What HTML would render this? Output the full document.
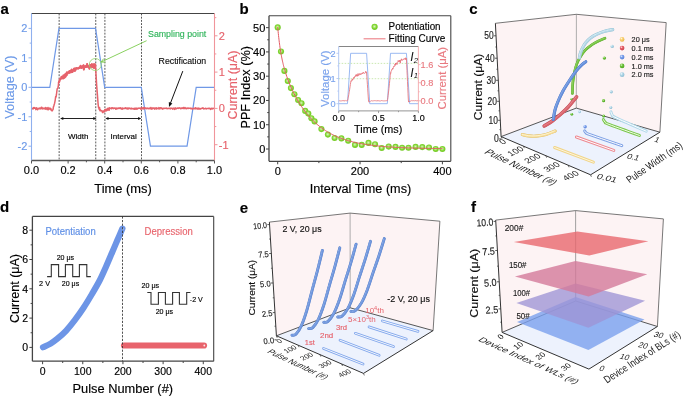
<!DOCTYPE html>
<html><head><meta charset="utf-8"><style>
html,body{margin:0;padding:0;background:#fff;}
svg{display:block;font-family:"Liberation Sans",sans-serif;will-change:transform;}
</style></head><body>
<svg width="685" height="398" viewBox="0 0 685 398">
<defs>
<radialGradient id="gsph" cx="0.47" cy="0.45" r="0.55">
<stop offset="0" stop-color="#dcf6c0"/><stop offset="0.35" stop-color="#a8e46e"/><stop offset="0.62" stop-color="#80d532"/><stop offset="1" stop-color="#72c823"/>
</radialGradient>
<radialGradient id="gbl" cx="0.36" cy="0.32" r="0.7"><stop offset="0" stop-color="#e4edff"/><stop offset="0.4" stop-color="#7aa0ec"/><stop offset="1" stop-color="#557fd6"/></radialGradient>
<radialGradient id="glb" cx="0.36" cy="0.32" r="0.7"><stop offset="0" stop-color="#f6fcff"/><stop offset="0.4" stop-color="#b0d6e7"/><stop offset="1" stop-color="#8dbcd2"/></radialGradient>
<radialGradient id="ggr" cx="0.36" cy="0.32" r="0.7"><stop offset="0" stop-color="#dff7c8"/><stop offset="0.4" stop-color="#6cc23a"/><stop offset="1" stop-color="#4fa524"/></radialGradient>
<radialGradient id="grd" cx="0.36" cy="0.32" r="0.7"><stop offset="0" stop-color="#ffe0e2"/><stop offset="0.4" stop-color="#e55a64"/><stop offset="1" stop-color="#c9424d"/></radialGradient>
<radialGradient id="gyl" cx="0.36" cy="0.32" r="0.7"><stop offset="0" stop-color="#fff8e0"/><stop offset="0.4" stop-color="#fad071"/><stop offset="1" stop-color="#e8b64a"/></radialGradient>
</defs>
<rect width="685" height="398" fill="#fff"/>
<text x="0.5" y="13.7" font-size="15" fill="#000" stroke="#000" stroke-width="0.15" font-weight="bold" >a</text>
<line x1="59.15" y1="13.5" x2="59.15" y2="160.5" stroke="#222" stroke-width="0.75" stroke-dasharray="1.9,1.3"/>
<line x1="95.75" y1="13.5" x2="95.75" y2="160.5" stroke="#222" stroke-width="0.75" stroke-dasharray="1.9,1.3"/>
<line x1="104.9" y1="13.5" x2="104.9" y2="160.5" stroke="#222" stroke-width="0.75" stroke-dasharray="1.9,1.3"/>
<line x1="141.5" y1="13.5" x2="141.5" y2="160.5" stroke="#222" stroke-width="0.75" stroke-dasharray="1.9,1.3"/>
<path d="M31.5,87.3 L49.8,87.3 L58.95,28.4 L95.55,28.4 L104.7,87.3 L141.3,87.3 L150.45,146.2 L187.05,146.2 L196.2,87.3 L214.5,87.3" fill="none" stroke="#6f98e6" stroke-width="1.2" />
<path d="M31.5,108.59 L31.87,108.03 L32.23,108.56 L32.6,108.63 L32.96,109.08 L33.33,108.55 L33.7,107.59 L34.06,108.09 L34.43,107.65 L34.79,108.22 L35.16,108.11 L35.53,108.27 L35.89,109.61 L36.26,107.78 L36.62,108.03 L36.99,108.04 L37.36,109.63 L37.72,109.67 L38.09,109.05 L38.45,108.74 L38.82,108.18 L39.19,108.43 L39.55,108.02 L39.92,108.87 L40.28,108.18 L40.65,108.11 L41.02,108.88 L41.38,107.15 L41.75,108 L42.11,107.53 L42.48,108.85 L42.85,108.94 L43.21,108.65 L43.58,108.48 L43.94,107.94 L44.31,108.22 L44.68,108.72 L45.04,109.09 L45.41,108.78 L45.77,107.51 L46.14,108.99 L46.51,108.22 L46.87,108.09 L47.24,109.48 L47.6,108.36 L47.97,107.45 L48.34,109.86 L48.7,108.63 L49.07,108.48 L49.43,108.99 L49.8,108.04 L50.17,108.45 L50.53,109.46 L50.9,108.58 L51.26,110.08 L51.63,110.77 L52,110.6 L52.36,110.83 L52.73,109.83 L53.09,109.34 L53.46,106.66 L53.83,106.08 L54.19,104.41 L54.56,103.39 L54.92,101.53 L55.29,99.53 L55.66,96.5 L56.02,97.17 L56.39,95 L56.75,91.99 L57.12,89.32 L57.49,88.14 L57.85,88.11 L58.22,86.72 L58.58,82.78 L58.95,81.92 L59.32,81.88 L59.68,79.33 L60.05,78.8 L60.41,79.36 L60.78,78.88 L61.15,78.31 L61.51,76.76 L61.88,77.39 L62.24,77.14 L62.61,76.77 L62.98,78.59 L63.34,75.36 L63.71,75.38 L64.07,75.5 L64.44,77.74 L64.81,76.08 L65.17,74.29 L65.54,76.71 L65.9,74.78 L66.27,73.29 L66.64,75.4 L67,72.18 L67.37,73 L67.73,73.48 L68.1,72.76 L68.47,72.2 L68.83,72.51 L69.2,71.25 L69.56,72.87 L69.93,72.42 L70.3,70.73 L70.66,71.57 L71.03,72.3 L71.39,70.25 L71.76,69.54 L72.13,71.3 L72.49,72.08 L72.86,70.64 L73.22,70.49 L73.59,70.48 L73.96,68.59 L74.32,70.91 L74.69,68.43 L75.05,70.86 L75.42,70.22 L75.79,68.64 L76.15,68 L76.52,68.14 L76.88,68.54 L77.25,68.62 L77.62,68.48 L77.98,67.93 L78.35,68.58 L78.71,68 L79.08,67.59 L79.45,68.06 L79.81,67.18 L80.18,67.28 L80.54,65.71 L80.91,67.33 L81.28,68 L81.64,67.85 L82.01,67.39 L82.37,66.35 L82.74,67.54 L83.11,66.72 L83.47,65.17 L83.84,69.56 L84.2,68.02 L84.57,66.55 L84.94,66.32 L85.3,66.41 L85.67,67.02 L86.03,65.84 L86.4,66.16 L86.77,66.91 L87.13,63.84 L87.5,65.89 L87.86,66.75 L88.23,66.23 L88.6,66.3 L88.96,66.08 L89.33,68.73 L89.69,66.4 L90.06,64.83 L90.43,66.99 L90.79,65.82 L91.16,64.73 L91.52,64.78 L91.89,64.09 L92.26,67.29 L92.62,65.88 L92.99,65.82 L93.35,64.8 L93.72,64.28 L94.09,68.08 L94.45,64.21 L94.82,66.75 L95.18,64.54 L95.55,66.29 L95.92,73.26 L96.28,78.59 L96.65,85.02 L97.01,89.87 L97.38,94.28 L97.75,99.42 L98.11,104.09 L98.48,107.29 L98.84,108.04 L99.21,109.41 L99.58,107.59 L99.94,110.78 L100.31,109.61 L100.67,110.77 L101.04,110.75 L101.41,110.56 L101.77,111.09 L102.14,110.92 L102.5,112.57 L102.87,112.58 L103.24,110.88 L103.6,111.88 L103.97,111.77 L104.33,111.94 L104.7,109.79 L105.07,110.02 L105.43,109.34 L105.8,110.93 L106.16,110.1 L106.53,110.77 L106.9,109.23 L107.26,108.48 L107.63,110.13 L107.99,108.19 L108.36,108.45 L108.73,109.15 L109.09,110.29 L109.46,107.69 L109.82,108.62 L110.19,108.62 L110.56,108.25 L110.92,108.25 L111.29,107.86 L111.65,108.77 L112.02,107.99 L112.39,107.86 L112.75,107.87 L113.12,108.47 L113.48,108.67 L113.85,108.03 L114.22,108.36 L114.58,108.35 L114.95,107.88 L115.31,108.5 L115.68,109.23 L116.05,108.54 L116.41,109.07 L116.78,108.1 L117.14,108.28 L117.51,108.62 L117.88,108.4 L118.24,108.1 L118.61,108.37 L118.97,107.92 L119.34,108.42 L119.71,108.02 L120.07,107.86 L120.44,107.82 L120.8,108.64 L121.17,108.08 L121.54,109.08 L121.9,108.79 L122.27,109.11 L122.63,108.01 L123,108.85 L123.37,108.4 L123.73,108.47 L124.1,108.41 L124.46,108.61 L124.83,108.32 L125.2,107.75 L125.56,108.38 L125.93,108.21 L126.29,108.04 L126.66,108.47 L127.03,108.86 L127.39,108.6 L127.76,108.01 L128.12,109 L128.49,108.62 L128.86,108.03 L129.22,108.11 L129.59,108.4 L129.95,108.11 L130.32,108.34 L130.69,108.83 L131.05,108.97 L131.42,108.63 L131.78,108.07 L132.15,108.61 L132.52,108.73 L132.88,108.68 L133.25,108.96 L133.61,108.44 L133.98,108.83 L134.35,108.27 L134.71,109.26 L135.08,108.28 L135.44,108.63 L135.81,109.1 L136.18,108.14 L136.54,108.5 L136.91,109.21 L137.27,108.72 L137.64,108.29 L138.01,108.57 L138.37,108.12 L138.74,108.13 L139.1,108.16 L139.47,108.28 L139.84,107.92 L140.2,108.16 L140.57,108.24 L140.93,109.16 L141.3,108.07 L141.67,107.92 L142.03,108.51 L142.4,108.57 L142.76,107.7 L143.13,109.04 L143.5,108.23 L143.86,107.52 L144.23,108.74 L144.59,108.15 L144.96,107.72 L145.33,108.44 L145.69,108.2 L146.06,108.07 L146.42,108.73 L146.79,108.43 L147.16,108.29 L147.52,108.1 L147.89,108.41 L148.25,108.47 L148.62,108.77 L148.99,108.53 L149.35,108.08 L149.72,108.36 L150.08,108.71 L150.45,108.71 L150.82,107.43 L151.18,107.99 L151.55,108.17 L151.91,109.34 L152.28,108.17 L152.65,108.23 L153.01,107.79 L153.38,108.24 L153.74,108.42 L154.11,108.21 L154.48,109.11 L154.84,108.02 L155.21,108.28 L155.57,108.65 L155.94,107.92 L156.31,107.74 L156.67,108.91 L157.04,108.64 L157.4,108.29 L157.77,108.33 L158.14,108.54 L158.5,108.75 L158.87,107.63 L159.23,108.02 L159.6,108.83 L159.97,108.89 L160.33,107.78 L160.7,108.04 L161.06,107.74 L161.43,108.11 L161.8,108.72 L162.16,108.31 L162.53,109.18 L162.89,108.67 L163.26,108.42 L163.63,108.21 L163.99,108.66 L164.36,108.45 L164.72,108.23 L165.09,108.26 L165.46,108.17 L165.82,108.32 L166.19,108.52 L166.55,108.11 L166.92,108.38 L167.29,108.7 L167.65,108.63 L168.02,108.4 L168.38,108.44 L168.75,108.34 L169.12,108.4 L169.48,108.34 L169.85,108.45 L170.21,108.86 L170.58,108.25 L170.95,108.02 L171.31,108.24 L171.68,108.47 L172.04,108.24 L172.41,108.75 L172.78,109.09 L173.14,108.38 L173.51,108.74 L173.87,108.13 L174.24,108.79 L174.61,109.35 L174.97,108.78 L175.34,107.83 L175.7,108.54 L176.07,108.9 L176.44,108.68 L176.8,108.21 L177.17,108.22 L177.53,108.34 L177.9,107.86 L178.27,108.14 L178.63,108.41 L179,108.18 L179.36,107.8 L179.73,108.05 L180.1,108.03 L180.46,108.79 L180.83,108.45 L181.19,108.14 L181.56,108.51 L181.93,108.01 L182.29,108.18 L182.66,108.07 L183.02,108.48 L183.39,107.48 L183.76,107.95 L184.12,108.48 L184.49,108.37 L184.85,107.46 L185.22,108.52 L185.59,108.08 L185.95,108.04 L186.32,108.4 L186.68,108.82 L187.05,108.33 L187.42,108.27 L187.78,107.99 L188.15,108.12 L188.51,108.39 L188.88,108.09 L189.25,108.2 L189.61,108.33 L189.98,108.38 L190.34,108.49 L190.71,108.15 L191.08,108.78 L191.44,108.63 L191.81,108.4 L192.17,108.93 L192.54,108.56 L192.91,109.13 L193.27,108.65 L193.64,108.19 L194,108.19 L194.37,108.42 L194.74,108.48 L195.1,108.91 L195.47,107.74 L195.83,108.21 L196.2,108 L196.57,108.72 L196.93,108.47 L197.3,109.06 L197.66,108.12 L198.03,108.06 L198.4,109.09 L198.76,108.42 L199.13,108.17 L199.49,109.04 L199.86,109.06 L200.23,108.79 L200.59,108.63 L200.96,108.91 L201.32,108.39 L201.69,108.31 L202.06,108.17 L202.42,108.15 L202.79,107.85 L203.15,107.98 L203.52,108.88 L203.89,108.58 L204.25,108.78 L204.62,108.79 L204.98,108.43 L205.35,108.4 L205.72,108.22 L206.08,108.98 L206.45,108.85 L206.81,108.41 L207.18,108.47 L207.55,108.51 L207.91,108.42 L208.28,108.68 L208.64,108.15 L209.01,108.27 L209.38,108.43 L209.74,108.64 L210.11,108.46 L210.47,109.39 L210.84,108.76 L211.21,108.39 L211.57,108.95 L211.94,108.33 L212.3,108.35 L212.67,108.9 L213.04,108.49 L213.4,108.51 L213.77,108.23 L214.13,108.18 L214.5,108.41" fill="none" stroke="#e6626b" stroke-width="1.5" stroke-linejoin="round"/>
<path d="M58.58,82.78 L58.95,81.92 L59.32,81.88 L59.68,79.33 L60.05,78.8 L60.41,79.36 L60.78,78.88 L61.15,78.31 L61.51,76.76 L61.88,77.39 L62.24,77.14 L62.61,76.77 L62.98,78.59 L63.34,75.36 L63.71,75.38 L64.07,75.5 L64.44,77.74 L64.81,76.08 L65.17,74.29 L65.54,76.71 L65.9,74.78 L66.27,73.29 L66.64,75.4 L67,72.18 L67.37,73 L67.73,73.48 L68.1,72.76 L68.47,72.2 L68.83,72.51 L69.2,71.25 L69.56,72.87 L69.93,72.42 L70.3,70.73 L70.66,71.57 L71.03,72.3 L71.39,70.25 L71.76,69.54 L72.13,71.3 L72.49,72.08 L72.86,70.64 L73.22,70.49 L73.59,70.48 L73.96,68.59 L74.32,70.91 L74.69,68.43 L75.05,70.86 L75.42,70.22 L75.79,68.64 L76.15,68 L76.52,68.14 L76.88,68.54 L77.25,68.62 L77.62,68.48 L77.98,67.93 L78.35,68.58 L78.71,68 L79.08,67.59 L79.45,68.06 L79.81,67.18 L80.18,67.28 L80.54,65.71 L80.91,67.33 L81.28,68 L81.64,67.85 L82.01,67.39 L82.37,66.35 L82.74,67.54 L83.11,66.72 L83.47,65.17 L83.84,69.56 L84.2,68.02 L84.57,66.55 L84.94,66.32 L85.3,66.41 L85.67,67.02 L86.03,65.84 L86.4,66.16 L86.77,66.91 L87.13,63.84 L87.5,65.89 L87.86,66.75 L88.23,66.23 L88.6,66.3 L88.96,66.08 L89.33,68.73 L89.69,66.4 L90.06,64.83 L90.43,66.99 L90.79,65.82 L91.16,64.73 L91.52,64.78 L91.89,64.09 L92.26,67.29 L92.62,65.88 L92.99,65.82 L93.35,64.8 L93.72,64.28 L94.09,68.08 L94.45,64.21 L94.82,66.75 L95.18,64.54 L95.55,66.29" fill="none" stroke="#e6626b" stroke-width="1.9" stroke-linejoin="round"/>
<line x1="31.5" y1="13.5" x2="214.5" y2="13.5" stroke="#444" stroke-width="1.1" />
<line x1="31.5" y1="160.5" x2="214.5" y2="160.5" stroke="#555" stroke-width="1.3" />
<line x1="31.5" y1="13.5" x2="31.5" y2="160.5" stroke="#8fb0ee" stroke-width="1.1" />
<line x1="214.5" y1="13.5" x2="214.5" y2="160.5" stroke="#f0959b" stroke-width="1.1" />
<line x1="31.5" y1="160.5" x2="31.5" y2="163.5" stroke="#555" stroke-width="1" />
<text x="31.5" y="174.1" font-size="11" fill="#000" stroke="#000" stroke-width="0.15" text-anchor="middle" >0.0</text>
<line x1="49.8" y1="160.5" x2="49.8" y2="162.3" stroke="#555" stroke-width="1" />
<line x1="68.1" y1="160.5" x2="68.1" y2="163.5" stroke="#555" stroke-width="1" />
<text x="68.1" y="174.1" font-size="11" fill="#000" stroke="#000" stroke-width="0.15" text-anchor="middle" >0.2</text>
<line x1="86.4" y1="160.5" x2="86.4" y2="162.3" stroke="#555" stroke-width="1" />
<line x1="104.7" y1="160.5" x2="104.7" y2="163.5" stroke="#555" stroke-width="1" />
<text x="104.7" y="174.1" font-size="11" fill="#000" stroke="#000" stroke-width="0.15" text-anchor="middle" >0.4</text>
<line x1="123" y1="160.5" x2="123" y2="162.3" stroke="#555" stroke-width="1" />
<line x1="141.3" y1="160.5" x2="141.3" y2="163.5" stroke="#555" stroke-width="1" />
<text x="141.3" y="174.1" font-size="11" fill="#000" stroke="#000" stroke-width="0.15" text-anchor="middle" >0.6</text>
<line x1="159.6" y1="160.5" x2="159.6" y2="162.3" stroke="#555" stroke-width="1" />
<line x1="177.9" y1="160.5" x2="177.9" y2="163.5" stroke="#555" stroke-width="1" />
<text x="177.9" y="174.1" font-size="11" fill="#000" stroke="#000" stroke-width="0.15" text-anchor="middle" >0.8</text>
<line x1="196.2" y1="160.5" x2="196.2" y2="162.3" stroke="#555" stroke-width="1" />
<line x1="214.5" y1="160.5" x2="214.5" y2="163.5" stroke="#555" stroke-width="1" />
<text x="214.5" y="174.1" font-size="11" fill="#000" stroke="#000" stroke-width="0.15" text-anchor="middle" >1.0</text>
<line x1="31.5" y1="146.2" x2="28.5" y2="146.2" stroke="#8fb0ee" stroke-width="1" />
<text x="27.4" y="150.2" font-size="11" fill="#6d9ae8" stroke="#6d9ae8" stroke-width="0.15" text-anchor="end" >-2</text>
<line x1="31.5" y1="131.47" x2="29.7" y2="131.47" stroke="#8fb0ee" stroke-width="1" />
<line x1="31.5" y1="116.75" x2="28.5" y2="116.75" stroke="#8fb0ee" stroke-width="1" />
<text x="27.4" y="120.75" font-size="11" fill="#6d9ae8" stroke="#6d9ae8" stroke-width="0.15" text-anchor="end" >-1</text>
<line x1="31.5" y1="102.02" x2="29.7" y2="102.02" stroke="#8fb0ee" stroke-width="1" />
<line x1="31.5" y1="87.3" x2="28.5" y2="87.3" stroke="#8fb0ee" stroke-width="1" />
<text x="27.4" y="91.3" font-size="11" fill="#6d9ae8" stroke="#6d9ae8" stroke-width="0.15" text-anchor="end" >0</text>
<line x1="31.5" y1="72.58" x2="29.7" y2="72.58" stroke="#8fb0ee" stroke-width="1" />
<line x1="31.5" y1="57.85" x2="28.5" y2="57.85" stroke="#8fb0ee" stroke-width="1" />
<text x="27.4" y="61.85" font-size="11" fill="#6d9ae8" stroke="#6d9ae8" stroke-width="0.15" text-anchor="end" >1</text>
<line x1="31.5" y1="43.12" x2="29.7" y2="43.12" stroke="#8fb0ee" stroke-width="1" />
<line x1="31.5" y1="28.4" x2="28.5" y2="28.4" stroke="#8fb0ee" stroke-width="1" />
<text x="27.4" y="32.4" font-size="11" fill="#6d9ae8" stroke="#6d9ae8" stroke-width="0.15" text-anchor="end" >2</text>
<line x1="214.5" y1="144.7" x2="217.5" y2="144.7" stroke="#f0959b" stroke-width="1" />
<text x="218.8" y="148.7" font-size="11" fill="#e6626b" stroke="#e6626b" stroke-width="0.15" >-1</text>
<line x1="214.5" y1="126.55" x2="216.3" y2="126.55" stroke="#f0959b" stroke-width="1" />
<line x1="214.5" y1="108.4" x2="217.5" y2="108.4" stroke="#f0959b" stroke-width="1" />
<text x="218.8" y="112.4" font-size="11" fill="#e6626b" stroke="#e6626b" stroke-width="0.15" >0</text>
<line x1="214.5" y1="90.25" x2="216.3" y2="90.25" stroke="#f0959b" stroke-width="1" />
<line x1="214.5" y1="72.1" x2="217.5" y2="72.1" stroke="#f0959b" stroke-width="1" />
<text x="218.8" y="76.1" font-size="11" fill="#e6626b" stroke="#e6626b" stroke-width="0.15" >1</text>
<line x1="214.5" y1="53.95" x2="216.3" y2="53.95" stroke="#f0959b" stroke-width="1" />
<line x1="214.5" y1="35.8" x2="217.5" y2="35.8" stroke="#f0959b" stroke-width="1" />
<text x="218.8" y="39.8" font-size="11" fill="#e6626b" stroke="#e6626b" stroke-width="0.15" >2</text>
<line x1="214.5" y1="17.65" x2="216.3" y2="17.65" stroke="#f0959b" stroke-width="1" />
<text x="123" y="193.3" font-size="12" fill="#000" stroke="#000" stroke-width="0.15" text-anchor="middle" textLength="57.5" lengthAdjust="spacingAndGlyphs" >Time (ms)</text>
<text x="13.8" y="87.1" font-size="12.8" fill="#6d9ae8" stroke="#6d9ae8" stroke-width="0.15" text-anchor="middle" transform="rotate(-90 13.8 87.1)" >Voltage (V)</text>
<text x="236.6" y="85" font-size="12.5" fill="#e6626b" stroke="#e6626b" stroke-width="0.15" text-anchor="middle" transform="rotate(-90 236.6 85)" >Current (μA)</text>
<circle cx="95.3" cy="64.5" r="6" fill="none" stroke="#92d46b" stroke-width="0.8"/>
<line x1="146.6" y1="40.7" x2="101.2" y2="62" stroke="#7dcc4e" stroke-width="0.9" />
<line x1="101.2" y1="62" x2="105.39" y2="62.26" stroke="#7dcc4e" stroke-width="0.9" />
<line x1="101.2" y1="62" x2="103.68" y2="58.61" stroke="#7dcc4e" stroke-width="0.9" />
<text x="148" y="36.9" font-size="9.5" fill="#2fb45a" stroke="#2fb45a" stroke-width="0.15" textLength="58.3" lengthAdjust="spacingAndGlyphs" >Sampling point</text>
<text x="158.6" y="64" font-size="9" fill="#111" stroke="#111" stroke-width="0.15" textLength="47.6" lengthAdjust="spacingAndGlyphs" >Rectification</text>
<line x1="182.8" y1="71.1" x2="170.4" y2="103.3" stroke="#111" stroke-width="1" />
<path d="M169,107 L168.84,102.12 L172.39,103.48Z" fill="#111"/>
<line x1="62.1" y1="118.5" x2="94.5" y2="118.5" stroke="#222" stroke-width="1" />
<path d="M60.1,118.5 L63.3,117 L63.3,120Z" fill="#111"/>
<path d="M96.5,118.5 L93.3,120 L93.3,117Z" fill="#111"/>
<line x1="107.3" y1="118.5" x2="139.3" y2="118.5" stroke="#222" stroke-width="1" />
<path d="M105.3,118.5 L108.5,117 L108.5,120Z" fill="#111"/>
<path d="M141.3,118.5 L138.1,120 L138.1,117Z" fill="#111"/>
<text x="78.2" y="139.2" font-size="8" fill="#000" stroke="#000" stroke-width="0.15" text-anchor="middle" >Width</text>
<text x="123.7" y="139.2" font-size="8" fill="#000" stroke="#000" stroke-width="0.15" text-anchor="middle" >Interval</text>
<text x="239.5" y="13.7" font-size="15" fill="#000" stroke="#000" stroke-width="0.15" font-weight="bold" >b</text>
<line x1="269" y1="15.8" x2="450.8" y2="15.8" stroke="#444" stroke-width="1.1" />
<line x1="269" y1="161.3" x2="450.8" y2="161.3" stroke="#444" stroke-width="1.3" />
<line x1="269" y1="15.8" x2="269" y2="161.3" stroke="#444" stroke-width="1.3" />
<line x1="450.8" y1="15.8" x2="450.8" y2="161.3" stroke="#444" stroke-width="1.1" />
<line x1="269" y1="149" x2="266" y2="149" stroke="#444" stroke-width="1" />
<text x="265.3" y="153" font-size="11" fill="#000" stroke="#000" stroke-width="0.15" text-anchor="end" >0</text>
<line x1="269" y1="136.87" x2="267.2" y2="136.87" stroke="#444" stroke-width="1" />
<line x1="269" y1="124.73" x2="266" y2="124.73" stroke="#444" stroke-width="1" />
<text x="265.3" y="128.73" font-size="11" fill="#000" stroke="#000" stroke-width="0.15" text-anchor="end" >10</text>
<line x1="269" y1="112.59" x2="267.2" y2="112.59" stroke="#444" stroke-width="1" />
<line x1="269" y1="100.46" x2="266" y2="100.46" stroke="#444" stroke-width="1" />
<text x="265.3" y="104.46" font-size="11" fill="#000" stroke="#000" stroke-width="0.15" text-anchor="end" >20</text>
<line x1="269" y1="88.32" x2="267.2" y2="88.32" stroke="#444" stroke-width="1" />
<line x1="269" y1="76.19" x2="266" y2="76.19" stroke="#444" stroke-width="1" />
<text x="265.3" y="80.19" font-size="11" fill="#000" stroke="#000" stroke-width="0.15" text-anchor="end" >30</text>
<line x1="269" y1="64.05" x2="267.2" y2="64.05" stroke="#444" stroke-width="1" />
<line x1="269" y1="51.92" x2="266" y2="51.92" stroke="#444" stroke-width="1" />
<text x="265.3" y="55.92" font-size="11" fill="#000" stroke="#000" stroke-width="0.15" text-anchor="end" >40</text>
<line x1="269" y1="39.78" x2="267.2" y2="39.78" stroke="#444" stroke-width="1" />
<line x1="269" y1="27.65" x2="266" y2="27.65" stroke="#444" stroke-width="1" />
<text x="265.3" y="31.65" font-size="11" fill="#000" stroke="#000" stroke-width="0.15" text-anchor="end" >50</text>
<line x1="277.7" y1="161.3" x2="277.7" y2="164.3" stroke="#444" stroke-width="1" />
<text x="277.7" y="174.8" font-size="11" fill="#000" stroke="#000" stroke-width="0.15" text-anchor="middle" >0</text>
<line x1="318.88" y1="161.3" x2="318.88" y2="163.1" stroke="#444" stroke-width="1" />
<line x1="360.05" y1="161.3" x2="360.05" y2="164.3" stroke="#444" stroke-width="1" />
<text x="360.05" y="174.8" font-size="11" fill="#000" stroke="#000" stroke-width="0.15" text-anchor="middle" >200</text>
<line x1="401.23" y1="161.3" x2="401.23" y2="163.1" stroke="#444" stroke-width="1" />
<line x1="442.4" y1="161.3" x2="442.4" y2="164.3" stroke="#444" stroke-width="1" />
<text x="442.4" y="174.8" font-size="11" fill="#000" stroke="#000" stroke-width="0.15" text-anchor="middle" >400</text>
<text x="360.5" y="193.3" font-size="12" fill="#000" stroke="#000" stroke-width="0.15" text-anchor="middle" textLength="101.5" lengthAdjust="spacingAndGlyphs" >Interval Time (ms)</text>
<text x="250" y="87.3" font-size="12.7" fill="#000" stroke="#000" stroke-width="0.15" text-anchor="middle" transform="rotate(-90 250 87.3)" >PPF Index (%)</text>
<rect x="338.7" y="46.5" width="79.7" height="64.4" fill="#fff"/>
<line x1="338.7" y1="63.4" x2="418.4" y2="63.4" stroke="#b5e08f" stroke-width="0.7" stroke-dasharray="1.5,1.5"/>
<line x1="338.7" y1="78.7" x2="418.4" y2="78.7" stroke="#b5e08f" stroke-width="0.7" stroke-dasharray="1.5,1.5"/>
<path d="M338.7,103.7 L347.47,103.7 L350.65,53.3 L366.59,53.3 L369.78,103.7 L387.32,103.7 L390.5,53.3 L406.44,53.3 L409.63,103.7 L418.4,103.7" fill="none" stroke="#8eb1f0" stroke-width="0.9" />
<path d="M338.7,100.92 L338.97,100.82 L339.23,100.81 L339.5,100.7 L339.76,100.76 L340.03,100.9 L340.29,100.98 L340.56,100.85 L340.83,100.9 L341.09,100.95 L341.36,100.82 L341.62,100.87 L341.89,100.79 L342.15,100.73 L342.42,100.86 L342.69,100.48 L342.95,100.84 L343.22,100.65 L343.48,100.78 L343.75,100.65 L344.01,101.12 L344.28,100.9 L344.54,100.77 L344.81,100.72 L345.08,100.48 L345.34,100.76 L345.61,100.63 L345.87,100.7 L346.14,100.67 L346.4,100.73 L346.67,100.82 L346.94,100.73 L347.2,100.95 L347.47,100.64 L347.73,100.02 L348,98.66 L348.26,97.09 L348.53,95.99 L348.8,94.47 L349.06,92.77 L349.33,91.33 L349.59,89.8 L349.86,87.96 L350.12,86.19 L350.39,84.42 L350.65,82.82 L350.92,81.03 L351.19,80.61 L351.45,81.27 L351.72,80.67 L351.98,80.72 L352.25,79.08 L352.51,80.14 L352.78,78.84 L353.05,79.28 L353.31,79.1 L353.58,77.83 L353.84,77.12 L354.11,77.75 L354.37,77.93 L354.64,76.66 L354.91,77 L355.17,76.52 L355.44,75.48 L355.7,75.53 L355.97,76.45 L356.23,74.35 L356.5,75.71 L356.77,75.01 L357.03,75.81 L357.3,75.24 L357.56,76.25 L357.83,73.7 L358.09,73.85 L358.36,75.47 L358.62,75.54 L358.89,75.49 L359.16,73.48 L359.42,74.48 L359.69,74.11 L359.95,74.18 L360.22,73.96 L360.48,74.52 L360.75,73.68 L361.02,74.59 L361.28,73.58 L361.55,73.25 L361.81,73.07 L362.08,73.48 L362.34,73.87 L362.61,73.09 L362.88,73.47 L363.14,72.02 L363.41,72.51 L363.67,73.05 L363.94,73.25 L364.2,73.36 L364.47,73.47 L364.74,73.03 L365,72.56 L365.27,72.37 L365.53,72.29 L365.8,71.22 L366.06,73.09 L366.33,72.57 L366.59,72.17 L366.86,76.72 L367.13,80.46 L367.39,84.28 L367.66,88.2 L367.92,92.08 L368.19,96.09 L368.45,99.92 L368.72,101.87 L368.99,101.66 L369.25,101.92 L369.52,101.67 L369.78,101.45 L370.05,101.48 L370.31,101.37 L370.58,101.04 L370.85,101.1 L371.11,100.82 L371.38,100.7 L371.64,100.76 L371.91,100.73 L372.17,100.81 L372.44,100.99 L372.71,100.8 L372.97,100.74 L373.24,100.87 L373.5,100.81 L373.77,100.7 L374.03,100.92 L374.3,100.71 L374.56,100.55 L374.83,100.88 L375.1,100.78 L375.36,100.82 L375.63,100.59 L375.89,100.76 L376.16,100.68 L376.42,100.89 L376.69,100.8 L376.96,100.8 L377.22,101.04 L377.49,100.6 L377.75,100.68 L378.02,101.04 L378.28,100.7 L378.55,100.82 L378.82,100.74 L379.08,100.75 L379.35,101 L379.61,100.83 L379.88,100.6 L380.14,100.88 L380.41,100.94 L380.68,100.98 L380.94,100.97 L381.21,100.75 L381.47,100.57 L381.74,100.74 L382,100.77 L382.27,100.5 L382.53,100.87 L382.8,100.89 L383.07,100.73 L383.33,100.73 L383.6,100.94 L383.86,100.96 L384.13,100.76 L384.39,100.77 L384.66,100.98 L384.93,100.83 L385.19,100.87 L385.46,100.74 L385.72,100.82 L385.99,100.81 L386.25,100.85 L386.52,100.66 L386.79,100.61 L387.05,100.85 L387.32,100.69 L387.58,99.47 L387.85,97.5 L388.11,95.35 L388.38,93.04 L388.65,90.97 L388.91,88.51 L389.18,85.98 L389.44,83.64 L389.71,80.79 L389.97,78.19 L390.24,75.3 L390.5,72.7 L390.77,73.32 L391.04,71.4 L391.3,70.72 L391.57,70.76 L391.83,69.29 L392.1,69.6 L392.36,69.37 L392.63,68.2 L392.9,69.16 L393.16,68.15 L393.43,67.31 L393.69,66.34 L393.96,66.66 L394.22,65.98 L394.49,66.3 L394.76,65.32 L395.02,64.08 L395.29,65.37 L395.55,63.01 L395.82,64.76 L396.08,64.04 L396.35,63.67 L396.62,62.84 L396.88,64.13 L397.15,64.48 L397.41,62.42 L397.68,62.08 L397.94,61.98 L398.21,60.42 L398.48,61.87 L398.74,61.65 L399.01,61.01 L399.27,61.21 L399.54,60.17 L399.8,61.97 L400.07,61.23 L400.33,63.16 L400.6,60.13 L400.87,60.79 L401.13,59.78 L401.4,58.82 L401.66,60.16 L401.93,60.2 L402.19,60.25 L402.46,60.37 L402.73,60.12 L402.99,59.16 L403.26,59.47 L403.52,59.35 L403.79,59.42 L404.05,58.59 L404.32,58.79 L404.59,59.14 L404.85,58.51 L405.12,58.99 L405.38,59.59 L405.65,57.75 L405.91,58.35 L406.18,59.25 L406.44,58.39 L406.71,64.28 L406.98,70.32 L407.24,75.68 L407.51,81.64 L407.77,87.35 L408.04,93.22 L408.3,99.06 L408.57,102.09 L408.84,101.64 L409.1,101.66 L409.37,101.59 L409.63,101.4 L409.9,101.33 L410.16,101.14 L410.43,101.17 L410.7,101.02 L410.96,101.2 L411.23,100.86 L411.49,100.71 L411.76,100.62 L412.02,100.85 L412.29,100.82 L412.56,100.59 L412.82,100.84 L413.09,100.7 L413.35,100.57 L413.62,100.79 L413.88,100.63 L414.15,100.9 L414.41,100.77 L414.68,100.81 L414.95,100.78 L415.21,100.65 L415.48,100.48 L415.74,100.89 L416.01,100.88 L416.27,100.73 L416.54,100.94 L416.81,100.73 L417.07,100.72 L417.34,100.84 L417.6,100.73 L417.87,101.01 L418.13,100.7 L418.4,101.01" fill="none" stroke="#e8777e" stroke-width="0.9" stroke-linejoin="round"/>
<line x1="338.7" y1="46.5" x2="418.4" y2="46.5" stroke="#777" stroke-width="0.9" />
<line x1="338.7" y1="110.9" x2="418.4" y2="110.9" stroke="#888" stroke-width="0.9" />
<line x1="338.7" y1="46.5" x2="338.7" y2="110.9" stroke="#a9c2f2" stroke-width="0.9" />
<line x1="418.4" y1="46.5" x2="418.4" y2="110.9" stroke="#f3a7ab" stroke-width="0.9" />
<line x1="338.7" y1="110.9" x2="338.7" y2="113.1" stroke="#888" stroke-width="0.8" />
<line x1="358.62" y1="110.9" x2="358.62" y2="112.2" stroke="#888" stroke-width="0.8" />
<line x1="378.55" y1="110.9" x2="378.55" y2="113.1" stroke="#888" stroke-width="0.8" />
<line x1="398.48" y1="110.9" x2="398.48" y2="112.2" stroke="#888" stroke-width="0.8" />
<line x1="418.4" y1="110.9" x2="418.4" y2="113.1" stroke="#888" stroke-width="0.8" />
<text x="338.7" y="120.8" font-size="9" fill="#000" stroke="#000" stroke-width="0.15" text-anchor="middle" >0.0</text>
<text x="378.55" y="120.8" font-size="9" fill="#000" stroke="#000" stroke-width="0.15" text-anchor="middle" >0.5</text>
<text x="418.4" y="120.8" font-size="9" fill="#000" stroke="#000" stroke-width="0.15" text-anchor="middle" >1.0</text>
<line x1="338.7" y1="103.7" x2="336.5" y2="103.7" stroke="#a9c2f2" stroke-width="0.8" />
<text x="335.6" y="107" font-size="9.2" fill="#7ba3ec" stroke="#7ba3ec" stroke-width="0.15" text-anchor="end" >0</text>
<line x1="338.7" y1="78.5" x2="336.5" y2="78.5" stroke="#a9c2f2" stroke-width="0.8" />
<text x="335.6" y="81.8" font-size="9.2" fill="#7ba3ec" stroke="#7ba3ec" stroke-width="0.15" text-anchor="end" >1</text>
<line x1="338.7" y1="53.3" x2="336.5" y2="53.3" stroke="#a9c2f2" stroke-width="0.8" />
<text x="335.6" y="56.6" font-size="9.2" fill="#7ba3ec" stroke="#7ba3ec" stroke-width="0.15" text-anchor="end" >2</text>
<line x1="338.7" y1="91.1" x2="337.4" y2="91.1" stroke="#a9c2f2" stroke-width="0.8" />
<line x1="338.7" y1="65.9" x2="337.4" y2="65.9" stroke="#a9c2f2" stroke-width="0.8" />
<line x1="418.4" y1="100.8" x2="420.6" y2="100.8" stroke="#f3a7ab" stroke-width="0.8" />
<text x="420.6" y="104.1" font-size="9.2" fill="#e97a80" stroke="#e97a80" stroke-width="0.15" >0.0</text>
<line x1="418.4" y1="82.72" x2="420.6" y2="82.72" stroke="#f3a7ab" stroke-width="0.8" />
<text x="420.6" y="86.02" font-size="9.2" fill="#e97a80" stroke="#e97a80" stroke-width="0.15" >0.8</text>
<line x1="418.4" y1="64.64" x2="420.6" y2="64.64" stroke="#f3a7ab" stroke-width="0.8" />
<text x="420.6" y="67.94" font-size="9.2" fill="#e97a80" stroke="#e97a80" stroke-width="0.15" >1.6</text>
<line x1="418.4" y1="91.76" x2="419.7" y2="91.76" stroke="#f3a7ab" stroke-width="0.8" />
<line x1="418.4" y1="73.68" x2="419.7" y2="73.68" stroke="#f3a7ab" stroke-width="0.8" />
<text x="378.2" y="132.8" font-size="10.8" fill="#000" stroke="#000" stroke-width="0.15" text-anchor="middle" >Time (ms)</text>
<text x="329" y="78.7" font-size="11.4" fill="#7ba3ec" stroke="#7ba3ec" stroke-width="0.15" text-anchor="middle" transform="rotate(-90 329 78.7)" >Voltage (V)</text>
<text x="445.6" y="78.2" font-size="11.6" fill="#e97a80" stroke="#e97a80" stroke-width="0.15" text-anchor="middle" textLength="62.6" lengthAdjust="spacingAndGlyphs" transform="rotate(-90 445.6 78.2)" >Current (μA)</text>
<text x="410.3" y="61.2" font-size="12.2" font-style="italic" fill="#111">I<tspan font-size="7.6" dy="1.6" font-style="italic">2</tspan></text>
<text x="410.3" y="76.6" font-size="12.2" font-style="italic" fill="#111">I<tspan font-size="7.6" dy="1.6" font-style="italic">1</tspan></text>
<circle cx="277.7" cy="27.4" r="3.05" fill="url(#gsph)"/>
<circle cx="281" cy="51.5" r="3.05" fill="url(#gsph)"/>
<circle cx="284.4" cy="70.9" r="3.05" fill="url(#gsph)"/>
<circle cx="287.8" cy="81" r="3.05" fill="url(#gsph)"/>
<circle cx="290.9" cy="88.1" r="3.05" fill="url(#gsph)"/>
<circle cx="294.4" cy="94.2" r="3.05" fill="url(#gsph)"/>
<circle cx="298.1" cy="100" r="3.05" fill="url(#gsph)"/>
<circle cx="301.5" cy="103.2" r="3.05" fill="url(#gsph)"/>
<circle cx="305.2" cy="110.9" r="3.05" fill="url(#gsph)"/>
<circle cx="308.3" cy="113.6" r="3.05" fill="url(#gsph)"/>
<circle cx="311.4" cy="118.2" r="3.05" fill="url(#gsph)"/>
<circle cx="314.6" cy="121.4" r="3.05" fill="url(#gsph)"/>
<circle cx="321.4" cy="129.1" r="3.05" fill="url(#gsph)"/>
<circle cx="327.9" cy="134.6" r="3.05" fill="url(#gsph)"/>
<circle cx="334.6" cy="138" r="3.05" fill="url(#gsph)"/>
<circle cx="341.4" cy="138.4" r="3.05" fill="url(#gsph)"/>
<circle cx="348.2" cy="140.7" r="3.05" fill="url(#gsph)"/>
<circle cx="355" cy="144.9" r="3.05" fill="url(#gsph)"/>
<circle cx="361.7" cy="144.9" r="3.05" fill="url(#gsph)"/>
<circle cx="368.5" cy="142.9" r="3.05" fill="url(#gsph)"/>
<circle cx="375" cy="144.3" r="3.05" fill="url(#gsph)"/>
<circle cx="381.7" cy="148" r="3.05" fill="url(#gsph)"/>
<circle cx="388.7" cy="146.6" r="3.05" fill="url(#gsph)"/>
<circle cx="395.5" cy="146.9" r="3.05" fill="url(#gsph)"/>
<circle cx="402.1" cy="147.8" r="3.05" fill="url(#gsph)"/>
<circle cx="408.5" cy="147.8" r="3.05" fill="url(#gsph)"/>
<circle cx="415.6" cy="146.9" r="3.05" fill="url(#gsph)"/>
<circle cx="422.3" cy="147.1" r="3.05" fill="url(#gsph)"/>
<circle cx="429" cy="147.5" r="3.05" fill="url(#gsph)"/>
<circle cx="435.7" cy="149" r="3.05" fill="url(#gsph)"/>
<circle cx="442.4" cy="149" r="3.05" fill="url(#gsph)"/>
<path d="M277.7,27.02 L277.91,29.29 L278.11,31.45 L278.32,33.51 L278.52,35.48 L278.73,37.35 L278.94,39.15 L279.14,40.87 L279.35,42.51 L279.55,44.09 L279.76,45.6 L279.96,47.05 L280.17,48.45 L280.38,49.79 L280.58,51.08 L280.79,52.33 L280.99,53.53 L281.2,54.68 L281.41,55.8 L281.61,56.89 L281.82,57.94 L282.02,58.95 L282.23,59.94 L282.44,60.89 L282.64,61.82 L282.85,62.72 L283.05,63.6 L283.26,64.45 L283.46,65.29 L283.67,66.1 L283.88,66.89 L284.08,67.66 L284.29,68.42 L284.49,69.16 L284.7,69.88 L284.91,70.59 L285.11,71.29 L285.32,71.97 L285.52,72.64 L285.73,73.29 L285.94,73.94 L286.76,76.41 L287.58,78.73 L288.41,80.93 L289.23,83.01 L290.05,85 L290.88,86.91 L291.7,88.75 L292.52,90.51 L293.35,92.21 L294.17,93.86 L294.99,95.45 L295.82,96.99 L296.64,98.48 L297.46,99.93 L298.29,101.33 L299.11,102.7 L299.93,104.02 L300.76,105.3 L301.58,106.55 L302.4,107.76 L303.23,108.93 L304.05,110.07 L304.88,111.18 L305.7,112.25 L306.52,113.3 L307.35,114.31 L308.17,115.3 L308.99,116.26 L309.82,117.19 L310.64,118.09 L311.46,118.97 L312.29,119.82 L313.11,120.65 L313.93,121.46 L314.76,122.24 L315.58,123 L316.4,123.74 L317.23,124.46 L318.05,125.15 L318.88,125.83 L319.7,126.49 L320.52,127.13 L321.35,127.75 L322.17,128.35 L322.99,128.93 L323.82,129.5 L324.64,130.06 L325.46,130.59 L326.29,131.12 L327.11,131.62 L327.93,132.11 L328.76,132.59 L329.58,133.06 L330.4,133.51 L331.23,133.95 L332.05,134.37 L332.87,134.79 L333.7,135.19 L334.52,135.58 L335.34,135.96 L336.17,136.33 L336.99,136.69 L337.82,137.03 L338.64,137.37 L339.46,137.7 L340.29,138.02 L341.11,138.33 L341.93,138.63 L342.76,138.92 L343.58,139.21 L344.4,139.48 L345.23,139.75 L346.05,140.01 L346.87,140.27 L347.7,140.51 L348.52,140.75 L349.34,140.98 L350.17,141.21 L350.99,141.43 L351.81,141.64 L352.64,141.85 L353.46,142.05 L354.29,142.24 L355.11,142.43 L355.93,142.62 L356.76,142.8 L357.58,142.97 L358.4,143.14 L359.23,143.3 L360.05,143.46 L360.87,143.62 L361.7,143.77 L362.52,143.91 L363.34,144.05 L364.17,144.19 L364.99,144.33 L365.81,144.46 L366.64,144.58 L367.46,144.71 L368.28,144.83 L369.11,144.94 L369.93,145.05 L370.76,145.16 L371.58,145.27 L372.4,145.37 L373.23,145.47 L374.05,145.57 L374.87,145.67 L375.7,145.76 L376.52,145.85 L377.34,145.93 L378.17,146.02 L378.99,146.1 L379.81,146.18 L380.64,146.26 L381.46,146.33 L382.28,146.4 L383.11,146.48 L383.93,146.54 L384.75,146.61 L385.58,146.68 L386.4,146.74 L387.23,146.8 L388.05,146.86 L388.87,146.92 L389.7,146.97 L390.52,147.03 L391.34,147.08 L392.17,147.13 L392.99,147.18 L393.81,147.23 L394.64,147.28 L395.46,147.33 L396.28,147.37 L397.11,147.41 L397.93,147.46 L398.75,147.5 L399.58,147.54 L400.4,147.58 L401.23,147.61 L402.05,147.65 L402.87,147.68 L403.7,147.72 L404.52,147.75 L405.34,147.78 L406.17,147.82 L406.99,147.85 L407.81,147.88 L408.64,147.91 L409.46,147.93 L410.28,147.96 L411.11,147.99 L411.93,148.01 L412.75,148.04 L413.58,148.06 L414.4,148.09 L415.22,148.11 L416.05,148.13 L416.87,148.15 L417.69,148.17 L418.52,148.19 L419.34,148.21 L420.17,148.23 L420.99,148.25 L421.81,148.27 L422.64,148.29 L423.46,148.31 L424.28,148.32 L425.11,148.34 L425.93,148.35 L426.75,148.37 L427.58,148.38 L428.4,148.4 L429.22,148.41 L430.05,148.43 L430.87,148.44 L431.69,148.45 L432.52,148.46 L433.34,148.48 L434.16,148.49 L434.99,148.5 L435.81,148.51 L436.64,148.52 L437.46,148.53 L438.28,148.54 L439.11,148.55 L439.93,148.56 L440.75,148.57 L441.58,148.58 L442.4,148.59" fill="none" stroke="#e35a63" stroke-width="1" />
<circle cx="374.6" cy="26.8" r="3.1" fill="url(#gsph)"/>
<text x="388.6" y="29.9" font-size="10" fill="#000" stroke="#000" stroke-width="0.15" textLength="52" lengthAdjust="spacingAndGlyphs" >Potentiation</text>
<line x1="363.6" y1="38.8" x2="385.5" y2="38.8" stroke="#ec7e85" stroke-width="1.1" />
<text x="388.6" y="41.8" font-size="10" fill="#000" stroke="#000" stroke-width="0.15" textLength="56.6" lengthAdjust="spacingAndGlyphs" >Fitting Curve</text>
<text x="0" y="212.2" font-size="15" fill="#000" stroke="#000" stroke-width="0.15" font-weight="bold" >d</text>
<line x1="32.4" y1="216.4" x2="213.7" y2="216.4" stroke="#444" stroke-width="1.1" />
<line x1="32.4" y1="361.2" x2="213.7" y2="361.2" stroke="#444" stroke-width="1.3" />
<line x1="32.4" y1="216.4" x2="32.4" y2="361.2" stroke="#444" stroke-width="1.3" />
<line x1="213.7" y1="216.4" x2="213.7" y2="361.2" stroke="#444" stroke-width="1.1" />
<line x1="32.4" y1="347.4" x2="29.4" y2="347.4" stroke="#444" stroke-width="1" />
<text x="28" y="351.2" font-size="10.5" fill="#000" stroke="#000" stroke-width="0.15" text-anchor="end" >0</text>
<line x1="32.4" y1="332.75" x2="30.6" y2="332.75" stroke="#444" stroke-width="1" />
<line x1="32.4" y1="318.1" x2="29.4" y2="318.1" stroke="#444" stroke-width="1" />
<text x="28" y="321.9" font-size="10.5" fill="#000" stroke="#000" stroke-width="0.15" text-anchor="end" >2</text>
<line x1="32.4" y1="303.45" x2="30.6" y2="303.45" stroke="#444" stroke-width="1" />
<line x1="32.4" y1="288.8" x2="29.4" y2="288.8" stroke="#444" stroke-width="1" />
<text x="28" y="292.6" font-size="10.5" fill="#000" stroke="#000" stroke-width="0.15" text-anchor="end" >4</text>
<line x1="32.4" y1="274.15" x2="30.6" y2="274.15" stroke="#444" stroke-width="1" />
<line x1="32.4" y1="259.5" x2="29.4" y2="259.5" stroke="#444" stroke-width="1" />
<text x="28" y="263.3" font-size="10.5" fill="#000" stroke="#000" stroke-width="0.15" text-anchor="end" >6</text>
<line x1="32.4" y1="244.85" x2="30.6" y2="244.85" stroke="#444" stroke-width="1" />
<line x1="32.4" y1="230.2" x2="29.4" y2="230.2" stroke="#444" stroke-width="1" />
<text x="28" y="234" font-size="10.5" fill="#000" stroke="#000" stroke-width="0.15" text-anchor="end" >8</text>
<line x1="42.6" y1="361.2" x2="42.6" y2="364.2" stroke="#444" stroke-width="1" />
<text x="42.6" y="374.8" font-size="10.5" fill="#000" stroke="#000" stroke-width="0.15" text-anchor="middle" >0</text>
<line x1="62.69" y1="361.2" x2="62.69" y2="363" stroke="#444" stroke-width="1" />
<line x1="82.77" y1="361.2" x2="82.77" y2="364.2" stroke="#444" stroke-width="1" />
<text x="82.77" y="374.8" font-size="10.5" fill="#000" stroke="#000" stroke-width="0.15" text-anchor="middle" >100</text>
<line x1="102.86" y1="361.2" x2="102.86" y2="363" stroke="#444" stroke-width="1" />
<line x1="122.94" y1="361.2" x2="122.94" y2="364.2" stroke="#444" stroke-width="1" />
<text x="122.94" y="374.8" font-size="10.5" fill="#000" stroke="#000" stroke-width="0.15" text-anchor="middle" >200</text>
<line x1="143.03" y1="361.2" x2="143.03" y2="363" stroke="#444" stroke-width="1" />
<line x1="163.11" y1="361.2" x2="163.11" y2="364.2" stroke="#444" stroke-width="1" />
<text x="163.11" y="374.8" font-size="10.5" fill="#000" stroke="#000" stroke-width="0.15" text-anchor="middle" >300</text>
<line x1="183.19" y1="361.2" x2="183.19" y2="363" stroke="#444" stroke-width="1" />
<line x1="203.28" y1="361.2" x2="203.28" y2="364.2" stroke="#444" stroke-width="1" />
<text x="203.28" y="374.8" font-size="10.5" fill="#000" stroke="#000" stroke-width="0.15" text-anchor="middle" >400</text>
<text x="122.8" y="393" font-size="12" fill="#000" stroke="#000" stroke-width="0.15" text-anchor="middle" textLength="100.5" lengthAdjust="spacingAndGlyphs" >Pulse Number (#)</text>
<text x="18.6" y="288.5" font-size="12.5" fill="#000" stroke="#000" stroke-width="0.15" text-anchor="middle" transform="rotate(-90 18.6 288.5)" >Current (μA)</text>
<path d="M43,347.2 C44.27,346.6 48.2,345.02 50.6,343.6 C53,342.18 54.83,340.83 57.4,338.7 C59.97,336.57 63.13,333.85 66,330.8 C68.87,327.75 71.7,324.2 74.6,320.4 C77.5,316.6 80.5,312.4 83.4,308 C86.3,303.6 89.25,298.67 92,294 C94.75,289.33 97.55,284.58 99.9,280 C102.25,275.42 104.08,271.05 106.1,266.5 C108.12,261.95 110.15,257.02 112,252.7 C113.85,248.38 115.47,244.62 117.2,240.6 C118.93,236.58 121.53,230.6 122.4,228.6" fill="none" stroke="#6d95e6" stroke-width="6.2" stroke-linecap="round"/>
<circle cx="122.8" cy="229" r="0.8" fill="#dfe9fb"/>
<line x1="124" y1="345.5" x2="204" y2="345.5" stroke="#e8636c" stroke-width="6.2" stroke-linecap="round"/>
<circle cx="204.3" cy="345.5" r="0.9" fill="#fde9ea"/>
<line x1="122.5" y1="216.4" x2="122.5" y2="361.2" stroke="#333" stroke-width="0.85" stroke-dasharray="2.2,1.4"/>
<text x="45.4" y="234.7" font-size="10.4" fill="#5d8ee6" stroke="#5d8ee6" stroke-width="0.15" textLength="50.3" lengthAdjust="spacingAndGlyphs" >Potentiation</text>
<text x="144.6" y="234.5" font-size="10.4" fill="#e8646c" stroke="#e8646c" stroke-width="0.15" textLength="48.2" lengthAdjust="spacingAndGlyphs" >Depression</text>
<path d="M47.1,276.6 L51.3,276.6 L51.3,264.6 L58.6,264.6 L58.6,276.6 L65.4,276.6 L65.4,264.6 L72.7,264.6 L72.7,276.6 L79.4,276.6 L79.4,264.6 L86.8,264.6 L86.8,276.6 L90.8,276.6" fill="none" stroke="#333" stroke-width="1.1" />
<text x="56.7" y="260" font-size="7" fill="#000" stroke="#000" stroke-width="0.15" textLength="17.4" lengthAdjust="spacingAndGlyphs" >20 μs</text>
<text x="39.1" y="285.7" font-size="7" fill="#000" stroke="#000" stroke-width="0.15" textLength="10.9" lengthAdjust="spacingAndGlyphs" >2 V</text>
<text x="61.8" y="285.7" font-size="7" fill="#000" stroke="#000" stroke-width="0.15" textLength="17.4" lengthAdjust="spacingAndGlyphs" >20 μs</text>
<path d="M147.3,292.5 L151,292.5 L151,304.2 L158.4,304.2 L158.4,292.5 L165.4,292.5 L165.4,304.2 L172.6,304.2 L172.6,292.5 L179.4,292.5 L179.4,304.2 L186.7,304.2 L186.7,292.5 L190.5,292.5" fill="none" stroke="#333" stroke-width="1.1" />
<text x="141.6" y="287.8" font-size="7" fill="#000" stroke="#000" stroke-width="0.15" textLength="17.6" lengthAdjust="spacingAndGlyphs" >20 μs</text>
<text x="189.8" y="301.6" font-size="7" fill="#000" stroke="#000" stroke-width="0.15" textLength="13" lengthAdjust="spacingAndGlyphs" >-2 V</text>
<text x="155.7" y="313.9" font-size="7" fill="#000" stroke="#000" stroke-width="0.15" textLength="17.4" lengthAdjust="spacingAndGlyphs" >20 μs</text>
<text x="469.3" y="13.8" font-size="15" fill="#000" stroke="#000" stroke-width="0.15" font-weight="bold" >c</text>
<path d="M495.4,23.3 L576.4,14.3 L576.3,108.1 L501.1,136.6Z" fill="#fdf3f4" stroke="none" stroke-width="1" />
<path d="M576.4,14.3 L666.2,22.6 L659.9,132.2 L576.3,108.1Z" fill="#fdf3f4" stroke="none" stroke-width="1" />
<path d="M501.1,136.6 L576.3,108.1 L659.9,132.2 L590.6,174.8Z" fill="#edf2fd" stroke="none" stroke-width="1" />
<line x1="576.4" y1="14.3" x2="576.3" y2="108.1" stroke="#999" stroke-width="0.8" />
<path d="M495.4,23.3 L576.4,14.3 L666.2,22.6" fill="none" stroke="#555" stroke-width="0.8" />
<line x1="666.2" y1="22.6" x2="659.9" y2="132.2" stroke="#555" stroke-width="0.8" />
<line x1="501.1" y1="136.6" x2="576.3" y2="108.1" stroke="#444" stroke-width="0.9" />
<line x1="576.3" y1="108.1" x2="659.9" y2="132.2" stroke="#444" stroke-width="0.9" />
<line x1="495.4" y1="23.3" x2="501.1" y2="136.6" stroke="#333" stroke-width="1" />
<line x1="501.1" y1="136.6" x2="590.6" y2="174.8" stroke="#333" stroke-width="1" />
<line x1="590.6" y1="174.8" x2="659.9" y2="132.2" stroke="#333" stroke-width="1" />
<line x1="501.22" y1="138.9" x2="499.02" y2="138.9" stroke="#333" stroke-width="0.8" />
<text x="498.82" y="142.4" font-size="10" fill="#222" stroke="#222" stroke-width="0.15" text-anchor="end" textLength="4.8" lengthAdjust="spacingAndGlyphs" >0</text>
<line x1="500.28" y1="120.3" x2="498.08" y2="120.3" stroke="#333" stroke-width="0.8" />
<text x="497.88" y="123.8" font-size="10" fill="#222" stroke="#222" stroke-width="0.15" text-anchor="end" textLength="9.4" lengthAdjust="spacingAndGlyphs" >10</text>
<line x1="499.32" y1="101.3" x2="497.12" y2="101.3" stroke="#333" stroke-width="0.8" />
<text x="496.92" y="104.8" font-size="10" fill="#222" stroke="#222" stroke-width="0.15" text-anchor="end" textLength="9.4" lengthAdjust="spacingAndGlyphs" >20</text>
<line x1="498.27" y1="80.3" x2="496.07" y2="80.3" stroke="#333" stroke-width="0.8" />
<text x="495.87" y="83.8" font-size="10" fill="#222" stroke="#222" stroke-width="0.15" text-anchor="end" textLength="9.4" lengthAdjust="spacingAndGlyphs" >30</text>
<line x1="497.16" y1="58.2" x2="494.96" y2="58.2" stroke="#333" stroke-width="0.8" />
<text x="494.76" y="61.7" font-size="10" fill="#222" stroke="#222" stroke-width="0.15" text-anchor="end" textLength="9.4" lengthAdjust="spacingAndGlyphs" >40</text>
<line x1="496.03" y1="35.8" x2="493.83" y2="35.8" stroke="#333" stroke-width="0.8" />
<text x="493.63" y="39.3" font-size="10" fill="#222" stroke="#222" stroke-width="0.15" text-anchor="end" textLength="9.4" lengthAdjust="spacingAndGlyphs" >50</text>
<line x1="500.75" y1="129.6" x2="499.45" y2="129.6" stroke="#333" stroke-width="0.7" />
<line x1="499.8" y1="110.8" x2="498.5" y2="110.8" stroke="#333" stroke-width="0.7" />
<line x1="498.8" y1="90.8" x2="497.5" y2="90.8" stroke="#333" stroke-width="0.7" />
<line x1="497.71" y1="69.25" x2="496.41" y2="69.25" stroke="#333" stroke-width="0.7" />
<line x1="496.59" y1="47" x2="495.29" y2="47" stroke="#333" stroke-width="0.7" />
<line x1="501.1" y1="136.6" x2="501.9" y2="138.6" stroke="#333" stroke-width="0.7" />
<line x1="523.48" y1="146.15" x2="524.27" y2="148.15" stroke="#333" stroke-width="0.7" />
<line x1="545.85" y1="155.7" x2="546.65" y2="157.7" stroke="#333" stroke-width="0.7" />
<line x1="568.23" y1="165.25" x2="569.02" y2="167.25" stroke="#333" stroke-width="0.7" />
<line x1="590.6" y1="174.8" x2="591.4" y2="176.8" stroke="#333" stroke-width="0.7" />
<text x="486.3" y="22" font-size="1" fill="#000" stroke="#000" stroke-width="0.15" ></text>
<text x="482" y="87" font-size="11" fill="#111" stroke="#111" stroke-width="0.15" text-anchor="middle" textLength="66.5" lengthAdjust="spacingAndGlyphs" transform="rotate(-90 482 87)" >Current (μA)</text>
<text x="0" y="0" font-size="9.2" fill="#222" transform="matrix(0.8984,-0.4392,0.7132,0.6276,502.5,144.8)">0</text>
<text x="0" y="0" font-size="9.2" fill="#222" transform="matrix(0.8984,-0.4392,0.7132,0.6276,510.8,156.4)">100</text>
<text x="0" y="0" font-size="9.2" fill="#222" transform="matrix(0.8984,-0.4392,0.7132,0.6276,527.8,163.8)">200</text>
<text x="0" y="0" font-size="9.2" fill="#222" transform="matrix(0.8984,-0.4392,0.7132,0.6276,547,172.2)">300</text>
<text x="0" y="0" font-size="9.2" fill="#222" transform="matrix(0.8984,-0.4392,0.7132,0.6276,566,181)">400</text>
<text x="0" y="0" font-size="10.5" fill="#222" textLength="76.5" lengthAdjust="spacingAndGlyphs" transform="matrix(0.9061,0.4230,-0.8211,0.5708,483.5,153)">Pulse Number (#)</text>
<text x="0" y="0" font-size="8" fill="#222" textLength="20" lengthAdjust="spacingAndGlyphs" transform="matrix(0.9798,0.2000,-0.4512,0.8924,596,178.6)">0.01</text>
<text x="0" y="0" font-size="8" fill="#222" textLength="12" lengthAdjust="spacingAndGlyphs" transform="matrix(0.9798,0.2000,-0.4512,0.8924,626.3,158.4)">0.1</text>
<text x="0" y="0" font-size="8" fill="#222" transform="matrix(0.9798,0.2000,-0.4512,0.8924,653.8,141.8)">1</text>
<text x="0" y="0" font-size="10.3" fill="#222" textLength="65" lengthAdjust="spacingAndGlyphs" transform="matrix(0.8255,-0.5644,0.6000,0.8000,629.5,183.6)">Pulse Width (ms)</text>
<path d="M554.6,147.5 L593.4,162.2" fill="none" stroke="#f0d58a" stroke-width="3" stroke-linecap="round"/>
<path d="M554.6,147.5 L593.4,162.2" fill="none" stroke="#fff6dc" stroke-width="1" stroke-linecap="round"/>
<path d="M576.4,137 L613.8,150.4" fill="none" stroke="#ee8a92" stroke-width="3" stroke-linecap="round"/>
<path d="M576.4,137 L613.8,150.4" fill="none" stroke="#fff" stroke-width="1" stroke-linecap="round"/>
<path d="M584.6,130.9 C584.87,131.23 585.3,132.28 586.2,132.9 C587.1,133.52 584.07,132.48 590,134.6 C595.93,136.72 616.5,143.77 621.8,145.6" fill="none" stroke="#7fa2e6" stroke-width="3" stroke-linecap="round" stroke-linejoin="round"/>
<path d="M584.6,130.9 C584.87,131.23 585.3,132.28 586.2,132.9 C587.1,133.52 584.07,132.48 590,134.6 C595.93,136.72 616.5,143.77 621.8,145.6" fill="none" stroke="#fff" stroke-width="1" stroke-linecap="round" stroke-linejoin="round"/>
<path d="M603.4,119.6 C603.7,120.03 604.27,121.4 605.2,122.2 C606.13,123 603.3,122.2 609,124.4 C614.7,126.6 634.33,133.57 639.4,135.4" fill="none" stroke="#7ac64b" stroke-width="3" stroke-linecap="round" stroke-linejoin="round"/>
<path d="M603.4,119.6 C603.7,120.03 604.27,121.4 605.2,122.2 C606.13,123 603.3,122.2 609,124.4 C614.7,126.6 634.33,133.57 639.4,135.4" fill="none" stroke="#f3ffe8" stroke-width="1" stroke-linecap="round" stroke-linejoin="round"/>
<path d="M610.9,111.8 C611.13,112.37 611.45,114.2 612.3,115.2 C613.15,116.2 610.35,115.13 616,117.8 C621.65,120.47 641.17,128.97 646.2,131.2" fill="none" stroke="#b2d9ea" stroke-width="3" stroke-linecap="round" stroke-linejoin="round"/>
<path d="M610.9,111.8 C611.13,112.37 611.45,114.2 612.3,115.2 C613.15,116.2 610.35,115.13 616,117.8 C621.65,120.47 641.17,128.97 646.2,131.2" fill="none" stroke="#fff" stroke-width="1" stroke-linecap="round" stroke-linejoin="round"/>
<path d="M522.3,134.6 C523.42,134.82 526.72,135.65 529,135.9 C531.28,136.15 533.17,136.35 536,136.1 C538.83,135.85 542.8,135.25 546,134.4 C549.2,133.55 553.67,131.57 555.2,131" fill="none" stroke="#d9b866" stroke-width="3.1" stroke-linecap="round" stroke-linejoin="round"/>
<path d="M522.3,134.6 C523.42,134.82 526.72,135.65 529,135.9 C531.28,136.15 533.17,136.35 536,136.1 C538.83,135.85 542.8,135.25 546,134.4 C549.2,133.55 553.67,131.57 555.2,131" fill="none" stroke="#f6dc95" stroke-width="2.6" stroke-linecap="round" stroke-linejoin="round"/>
<path d="M521.9,134.4 C523.02,134.62 526.32,135.45 528.6,135.7 C530.88,135.95 532.77,136.15 535.6,135.9 C538.43,135.65 542.4,135.05 545.6,134.2 C548.8,133.35 553.27,131.37 554.8,130.8" fill="none" stroke="#fffbe8" stroke-width="0.9" stroke-linecap="butt" stroke-opacity="0.8"/>
<circle cx="585.1" cy="126.7" r="1.7" fill="url(#gbl)"/>
<circle cx="579.6" cy="111.8" r="1.4" fill="url(#glb)"/>
<circle cx="571.8" cy="114.3" r="1.4" fill="url(#ggr)"/>
<circle cx="571.8" cy="99.3" r="1.4" fill="url(#ggr)"/>
<circle cx="603.6" cy="115.9" r="1.5" fill="url(#ggr)"/>
<circle cx="610.8" cy="107.5" r="1.5" fill="url(#glb)"/>
<circle cx="603.6" cy="100.7" r="1.6" fill="url(#ggr)"/>
<circle cx="611.3" cy="91.8" r="1.6" fill="url(#glb)"/>
<circle cx="604.4" cy="58.1" r="1.7" fill="url(#ggr)"/>
<circle cx="612.2" cy="46.4" r="1.7" fill="url(#glb)"/>
<path d="M544.2,126 C545.5,125.2 549.37,123.07 552,121.2 C554.63,119.33 557.33,117.13 560,114.8 C562.67,112.47 565.23,110.2 568,107.2 C570.77,104.2 575.17,98.53 576.6,96.8" fill="none" stroke="#c04a54" stroke-width="3.5" stroke-linecap="round" stroke-linejoin="round"/>
<path d="M544.2,126 C545.5,125.2 549.37,123.07 552,121.2 C554.63,119.33 557.33,117.13 560,114.8 C562.67,112.47 565.23,110.2 568,107.2 C570.77,104.2 575.17,98.53 576.6,96.8" fill="none" stroke="#d9646d" stroke-width="3" stroke-linecap="round" stroke-linejoin="round"/>
<path d="M543.8,125.8 C545.1,125 548.97,122.87 551.6,121 C554.23,119.13 556.93,116.93 559.6,114.6 C562.27,112.27 564.83,110 567.6,107 C570.37,104 574.77,98.33 576.2,96.6" fill="none" stroke="#f8b3b8" stroke-width="0.8" stroke-linecap="butt" stroke-opacity="0.5"/>
<path d="M572.4,93.5 C572.43,92.25 572.45,88.42 572.6,86 C572.75,83.58 572.98,81.33 573.3,79 C573.62,76.67 573.95,74.42 574.5,72 C575.05,69.58 575.75,66.83 576.6,64.5 C577.45,62.17 578.17,60.38 579.6,58 C581.03,55.62 583.22,52.37 585.2,50.2 C587.18,48.03 589.37,46.5 591.5,45 C593.63,43.5 595.75,42.33 598,41.2 C600.25,40.07 603.83,38.7 605,38.2" fill="none" stroke="#5aa52c" stroke-width="2.7" stroke-linecap="round" stroke-linejoin="round"/>
<path d="M572.4,93.5 C572.43,92.25 572.45,88.42 572.6,86 C572.75,83.58 572.98,81.33 573.3,79 C573.62,76.67 573.95,74.42 574.5,72 C575.05,69.58 575.75,66.83 576.6,64.5 C577.45,62.17 578.17,60.38 579.6,58 C581.03,55.62 583.22,52.37 585.2,50.2 C587.18,48.03 589.37,46.5 591.5,45 C593.63,43.5 595.75,42.33 598,41.2 C600.25,40.07 603.83,38.7 605,38.2" fill="none" stroke="#74c240" stroke-width="2.2" stroke-linecap="round" stroke-linejoin="round"/>
<path d="M572,93.3 C572.03,92.05 572.05,88.22 572.2,85.8 C572.35,83.38 572.58,81.13 572.9,78.8 C573.22,76.47 573.55,74.22 574.1,71.8 C574.65,69.38 575.35,66.63 576.2,64.3 C577.05,61.97 577.77,60.18 579.2,57.8 C580.63,55.42 582.82,52.17 584.8,50 C586.78,47.83 588.97,46.3 591.1,44.8 C593.23,43.3 595.35,42.13 597.6,41 C599.85,39.87 603.43,38.5 604.6,38" fill="none" stroke="#c5eea5" stroke-width="0.6" stroke-linecap="butt" stroke-opacity="0.5"/>
<path d="M553.3,119.4 C553.58,117.83 554.22,112.98 555,110 C555.78,107.02 556.67,104.67 558,101.5 C559.33,98.33 561.08,94.5 563,91 C564.92,87.5 567.25,83.92 569.5,80.5 C571.75,77.08 574.42,73.15 576.5,70.5 C578.58,67.85 580.45,66.07 582,64.6 C583.55,63.13 585.17,62.18 585.8,61.7" fill="none" stroke="#4b74c4" stroke-width="3.1" stroke-linecap="round" stroke-linejoin="round"/>
<path d="M553.3,119.4 C553.58,117.83 554.22,112.98 555,110 C555.78,107.02 556.67,104.67 558,101.5 C559.33,98.33 561.08,94.5 563,91 C564.92,87.5 567.25,83.92 569.5,80.5 C571.75,77.08 574.42,73.15 576.5,70.5 C578.58,67.85 580.45,66.07 582,64.6 C583.55,63.13 585.17,62.18 585.8,61.7" fill="none" stroke="#6690dc" stroke-width="2.6" stroke-linecap="round" stroke-linejoin="round"/>
<path d="M552.9,119.2 C553.18,117.63 553.82,112.78 554.6,109.8 C555.38,106.82 556.27,104.47 557.6,101.3 C558.93,98.13 560.68,94.3 562.6,90.8 C564.52,87.3 566.85,83.72 569.1,80.3 C571.35,76.88 574.02,72.95 576.1,70.3 C578.18,67.65 580.05,65.87 581.6,64.4 C583.15,62.93 584.77,61.98 585.4,61.5" fill="none" stroke="#b7cdf5" stroke-width="0.7" stroke-linecap="butt" stroke-opacity="0.5"/>
<path d="M579.4,57.8 C579.55,57.08 579.83,55.03 580.3,53.5 C580.77,51.97 581.33,50.35 582.2,48.6 C583.07,46.85 584.12,44.77 585.5,43 C586.88,41.23 588.67,39.43 590.5,38 C592.33,36.57 594.13,35.53 596.5,34.4 C598.87,33.27 602,32 604.7,31.2 C607.4,30.4 611.37,29.87 612.7,29.6" fill="none" stroke="#93bfd2" stroke-width="3.2" stroke-linecap="round" stroke-linejoin="round"/>
<path d="M579.4,57.8 C579.55,57.08 579.83,55.03 580.3,53.5 C580.77,51.97 581.33,50.35 582.2,48.6 C583.07,46.85 584.12,44.77 585.5,43 C586.88,41.23 588.67,39.43 590.5,38 C592.33,36.57 594.13,35.53 596.5,34.4 C598.87,33.27 602,32 604.7,31.2 C607.4,30.4 611.37,29.87 612.7,29.6" fill="none" stroke="#b3d7e6" stroke-width="2.7" stroke-linecap="round" stroke-linejoin="round"/>
<path d="M579,57.6 C579.15,56.88 579.43,54.83 579.9,53.3 C580.37,51.77 580.93,50.15 581.8,48.4 C582.67,46.65 583.72,44.57 585.1,42.8 C586.48,41.03 588.27,39.23 590.1,37.8 C591.93,36.37 593.73,35.33 596.1,34.2 C598.47,33.07 601.6,31.8 604.3,31 C607,30.2 610.97,29.67 612.3,29.4" fill="none" stroke="#f4fbfe" stroke-width="1" stroke-linecap="butt" stroke-opacity="0.85" stroke-dasharray="0.7,0.7"/>
<circle cx="622.1" cy="39.4" r="2.35" fill="url(#gyl)"/>
<text x="631.6" y="42" font-size="7.3" fill="#222" stroke="#222" stroke-width="0.15" >20 μs</text>
<circle cx="622.1" cy="48.1" r="2.35" fill="url(#grd)"/>
<text x="631.6" y="50.7" font-size="7.3" fill="#222" stroke="#222" stroke-width="0.15" >0.1 ms</text>
<circle cx="622.1" cy="57.1" r="2.35" fill="url(#gbl)"/>
<text x="631.6" y="59.7" font-size="7.3" fill="#222" stroke="#222" stroke-width="0.15" >0.2 ms</text>
<circle cx="622.1" cy="65.9" r="2.35" fill="url(#ggr)"/>
<text x="631.6" y="68.5" font-size="7.3" fill="#222" stroke="#222" stroke-width="0.15" >1.0 ms</text>
<circle cx="622.1" cy="74.7" r="2.35" fill="url(#glb)"/>
<text x="631.6" y="77.3" font-size="7.3" fill="#222" stroke="#222" stroke-width="0.15" >2.0 ms</text>
<text x="239.8" y="212.6" font-size="15" fill="#000" stroke="#000" stroke-width="0.15" font-weight="bold" >e</text>
<path d="M269.4,222.1 L350.1,213.1 L350.2,307.8 L276.4,335.8Z" fill="#fdf3f4" stroke="none" stroke-width="1" />
<path d="M350.1,213.1 L439.9,221.2 L433.1,330.6 L350.2,307.8Z" fill="#fdf3f4" stroke="none" stroke-width="1" />
<path d="M276.4,335.8 L350.2,307.8 L433.1,330.6 L363.5,373.4Z" fill="#edf2fd" stroke="none" stroke-width="1" />
<line x1="350.1" y1="213.1" x2="350.2" y2="307.8" stroke="#999" stroke-width="0.8" />
<path d="M269.4,222.1 L350.1,213.1 L439.9,221.2" fill="none" stroke="#555" stroke-width="0.8" />
<line x1="439.9" y1="221.2" x2="433.1" y2="330.6" stroke="#555" stroke-width="0.8" />
<line x1="276.4" y1="335.8" x2="350.2" y2="307.8" stroke="#444" stroke-width="0.9" />
<line x1="350.2" y1="307.8" x2="433.1" y2="330.6" stroke="#444" stroke-width="0.9" />
<line x1="269.4" y1="222.1" x2="276.4" y2="335.8" stroke="#333" stroke-width="1" />
<line x1="276.4" y1="335.8" x2="363.5" y2="373.4" stroke="#333" stroke-width="1" />
<line x1="363.5" y1="373.4" x2="433.1" y2="330.6" stroke="#333" stroke-width="1" />
<line x1="276.65" y1="339.8" x2="274.45" y2="339.8" stroke="#333" stroke-width="0.8" />
<text x="274.05" y="342.8" font-size="8.4" fill="#222" stroke="#222" stroke-width="0.15" text-anchor="end" textLength="10.6" lengthAdjust="spacingAndGlyphs" transform="rotate(-6 276.65 339.8)">0.0</text>
<line x1="274.97" y1="312.6" x2="272.77" y2="312.6" stroke="#333" stroke-width="0.8" />
<text x="272.37" y="315.6" font-size="8.4" fill="#222" stroke="#222" stroke-width="0.15" text-anchor="end" textLength="10.6" lengthAdjust="spacingAndGlyphs" transform="rotate(-6 274.97 312.6)">2.5</text>
<line x1="273.15" y1="283" x2="270.95" y2="283" stroke="#333" stroke-width="0.8" />
<text x="270.55" y="286" font-size="8.4" fill="#222" stroke="#222" stroke-width="0.15" text-anchor="end" textLength="10.6" lengthAdjust="spacingAndGlyphs" transform="rotate(-6 273.15 283)">5.0</text>
<line x1="271.33" y1="253.5" x2="269.13" y2="253.5" stroke="#333" stroke-width="0.8" />
<text x="268.73" y="256.5" font-size="8.4" fill="#222" stroke="#222" stroke-width="0.15" text-anchor="end" textLength="10.6" lengthAdjust="spacingAndGlyphs" transform="rotate(-6 271.33 253.5)">7.5</text>
<line x1="269.55" y1="224.6" x2="267.35" y2="224.6" stroke="#333" stroke-width="0.8" />
<text x="266.95" y="227.6" font-size="8.4" fill="#222" stroke="#222" stroke-width="0.15" text-anchor="end" textLength="13.8" lengthAdjust="spacingAndGlyphs" transform="rotate(-6 269.55 224.6)">10.0</text>
<line x1="275.81" y1="326.2" x2="274.51" y2="326.2" stroke="#333" stroke-width="0.7" />
<line x1="274.06" y1="297.8" x2="272.76" y2="297.8" stroke="#333" stroke-width="0.7" />
<line x1="272.24" y1="268.25" x2="270.94" y2="268.25" stroke="#333" stroke-width="0.7" />
<line x1="270.44" y1="239.05" x2="269.14" y2="239.05" stroke="#333" stroke-width="0.7" />
<text x="255.2" y="287.6" font-size="9.8" fill="#111" stroke="#111" stroke-width="0.15" text-anchor="middle" textLength="55.6" lengthAdjust="spacingAndGlyphs" transform="rotate(-90 255.2 287.6)" >Current (μA)</text>
<line x1="276.4" y1="335.8" x2="277.2" y2="337.8" stroke="#333" stroke-width="0.7" />
<line x1="298.17" y1="345.2" x2="298.97" y2="347.2" stroke="#333" stroke-width="0.7" />
<line x1="319.95" y1="354.6" x2="320.75" y2="356.6" stroke="#333" stroke-width="0.7" />
<line x1="341.73" y1="364" x2="342.53" y2="366" stroke="#333" stroke-width="0.7" />
<line x1="363.5" y1="373.4" x2="364.3" y2="375.4" stroke="#333" stroke-width="0.7" />
<text x="0" y="0" font-size="7.4" fill="#222" transform="matrix(0.8984,-0.4392,0.7507,0.6606,279.2,343.5)">0</text>
<text x="0" y="0" font-size="7.4" fill="#222" transform="matrix(0.8984,-0.4392,0.7507,0.6606,286.5,353.5)">100</text>
<text x="0" y="0" font-size="7.4" fill="#222" transform="matrix(0.8984,-0.4392,0.7507,0.6606,303,360.8)">200</text>
<text x="0" y="0" font-size="7.4" fill="#222" transform="matrix(0.8984,-0.4392,0.7507,0.6606,321.5,368.6)">300</text>
<text x="0" y="0" font-size="7.4" fill="#222" transform="matrix(0.8984,-0.4392,0.7507,0.6606,341,377.5)">400</text>
<text x="0" y="0" font-size="9" fill="#222" textLength="64" lengthAdjust="spacingAndGlyphs" transform="matrix(0.9061,0.4230,-0.8211,0.5708,266.5,352.6)">Pulse Number (#)</text>
<text x="282.4" y="232.4" font-size="9.6" fill="#111" stroke="#111" stroke-width="0.15" textLength="39.2" lengthAdjust="spacingAndGlyphs" >2 V, 20 μs</text>
<text x="387.2" y="302.3" font-size="9.6" fill="#111" stroke="#111" stroke-width="0.15" textLength="42.8" lengthAdjust="spacingAndGlyphs" >-2 V, 20 μs</text>
<path d="M323.5,348.4 L363.1,364.1" fill="none" stroke="#82a7ec" stroke-width="2.7" stroke-linecap="round"/>
<path d="M323.5,348.4 L363.1,364.1" fill="none" stroke="#fff" stroke-width="0.9" stroke-linecap="round"/>
<path d="M340,340.2 L379.2,355.3" fill="none" stroke="#82a7ec" stroke-width="2.7" stroke-linecap="round"/>
<path d="M340,340.2 L379.2,355.3" fill="none" stroke="#fff" stroke-width="0.9" stroke-linecap="round"/>
<path d="M355.3,333.3 L393.5,346.5" fill="none" stroke="#82a7ec" stroke-width="2.7" stroke-linecap="round"/>
<path d="M355.3,333.3 L393.5,346.5" fill="none" stroke="#fff" stroke-width="0.9" stroke-linecap="round"/>
<path d="M369,326.9 L406.3,339" fill="none" stroke="#82a7ec" stroke-width="2.7" stroke-linecap="round"/>
<path d="M369,326.9 L406.3,339" fill="none" stroke="#fff" stroke-width="0.9" stroke-linecap="round"/>
<path d="M382.4,321 L418,331.4" fill="none" stroke="#82a7ec" stroke-width="2.7" stroke-linecap="round"/>
<path d="M382.4,321 L418,331.4" fill="none" stroke="#fff" stroke-width="0.9" stroke-linecap="round"/>
<text x="304.8" y="344.7" font-size="8" fill="#e6626b" stroke="#e6626b" stroke-width="0.15" textLength="9.9" lengthAdjust="spacingAndGlyphs" >1st</text>
<text x="320" y="337.9" font-size="8" fill="#e6626b" stroke="#e6626b" stroke-width="0.15" textLength="13.2" lengthAdjust="spacingAndGlyphs" >2nd</text>
<text x="336" y="330.4" font-size="8" fill="#e6626b" stroke="#e6626b" stroke-width="0.15" textLength="11.1" lengthAdjust="spacingAndGlyphs" >3rd</text>
<text x="348" y="321.8" font-size="8" fill="#e6626b">5×10<tspan font-size="5.5" dy="-3">3</tspan><tspan dy="3">th</tspan></text>
<text x="365.2" y="313.2" font-size="8" fill="#e6626b">10<tspan font-size="5.5" dy="-3">4</tspan><tspan dy="3">th</tspan></text>
<path d="M292,335.2 C292.66,335.03 294.39,335.8 295.96,334.2 C297.53,332.59 299.62,329.51 301.42,325.55 C303.22,321.6 304.99,316.36 306.77,310.48 C308.56,304.61 310.32,297.02 312.12,290.29 C313.93,283.56 315.87,276.74 317.58,270.09 C319.3,263.44 321.6,253.68 322.4,250.4" fill="none" stroke="#5a80c8" stroke-width="2.9" stroke-linecap="round" stroke-linejoin="round"/>
<path d="M292,335.2 C292.66,335.03 294.39,335.8 295.96,334.2 C297.53,332.59 299.62,329.51 301.42,325.55 C303.22,321.6 304.99,316.36 306.77,310.48 C308.56,304.61 310.32,297.02 312.12,290.29 C313.93,283.56 315.87,276.74 317.58,270.09 C319.3,263.44 321.6,253.68 322.4,250.4" fill="none" stroke="#6e95dc" stroke-width="2.4" stroke-linecap="round" stroke-linejoin="round"/>
<path d="M291.6,335 C292.26,334.83 293.99,335.6 295.56,334 C297.13,332.39 299.22,329.31 301.02,325.35 C302.82,321.4 304.59,316.16 306.37,310.28 C308.16,304.41 309.92,296.82 311.72,290.09 C313.53,283.36 315.47,276.54 317.18,269.89 C318.9,263.24 321.2,253.48 322,250.2" fill="none" stroke="#c9dafa" stroke-width="0.8" stroke-linecap="butt" stroke-opacity="0.6" stroke-dasharray="0.7,0.8"/>
<path d="M308.7,328.6 C309.38,328.44 311.15,329.17 312.75,327.64 C314.36,326.11 316.49,323.18 318.34,319.41 C320.18,315.64 321.99,310.65 323.81,305.05 C325.64,299.45 327.44,292.22 329.29,285.81 C331.13,279.39 333.12,272.9 334.87,266.56 C336.62,260.23 338.98,250.93 339.8,247.8" fill="none" stroke="#5a80c8" stroke-width="2.9" stroke-linecap="round" stroke-linejoin="round"/>
<path d="M308.7,328.6 C309.38,328.44 311.15,329.17 312.75,327.64 C314.36,326.11 316.49,323.18 318.34,319.41 C320.18,315.64 321.99,310.65 323.81,305.05 C325.64,299.45 327.44,292.22 329.29,285.81 C331.13,279.39 333.12,272.9 334.87,266.56 C336.62,260.23 338.98,250.93 339.8,247.8" fill="none" stroke="#6e95dc" stroke-width="2.4" stroke-linecap="round" stroke-linejoin="round"/>
<path d="M308.3,328.4 C308.98,328.24 310.75,328.97 312.35,327.44 C313.96,325.91 316.09,322.98 317.94,319.21 C319.78,315.44 321.59,310.45 323.41,304.85 C325.24,299.25 327.04,292.02 328.89,285.61 C330.73,279.19 332.72,272.7 334.47,266.36 C336.22,260.03 338.58,250.73 339.4,247.6" fill="none" stroke="#c9dafa" stroke-width="0.8" stroke-linecap="butt" stroke-opacity="0.6" stroke-dasharray="0.7,0.8"/>
<path d="M323.8,322.3 C324.5,322.15 326.34,322.86 328.01,321.37 C329.68,319.89 331.89,317.06 333.81,313.42 C335.72,309.78 337.6,304.95 339.5,299.54 C341.39,294.12 343.27,287.14 345.18,280.94 C347.1,274.74 349.16,268.46 350.98,262.34 C352.8,256.21 355.25,247.22 356.1,244.2" fill="none" stroke="#5a80c8" stroke-width="2.9" stroke-linecap="round" stroke-linejoin="round"/>
<path d="M323.8,322.3 C324.5,322.15 326.34,322.86 328.01,321.37 C329.68,319.89 331.89,317.06 333.81,313.42 C335.72,309.78 337.6,304.95 339.5,299.54 C341.39,294.12 343.27,287.14 345.18,280.94 C347.1,274.74 349.16,268.46 350.98,262.34 C352.8,256.21 355.25,247.22 356.1,244.2" fill="none" stroke="#6e95dc" stroke-width="2.4" stroke-linecap="round" stroke-linejoin="round"/>
<path d="M323.4,322.1 C324.1,321.95 325.94,322.66 327.61,321.17 C329.28,319.69 331.49,316.86 333.41,313.22 C335.32,309.58 337.2,304.75 339.1,299.34 C340.99,293.92 342.87,286.94 344.78,280.74 C346.7,274.54 348.76,268.26 350.58,262.14 C352.4,256.01 354.85,247.02 355.7,244" fill="none" stroke="#c9dafa" stroke-width="0.8" stroke-linecap="butt" stroke-opacity="0.6" stroke-dasharray="0.7,0.8"/>
<path d="M337.8,317 C338.51,316.85 340.37,317.54 342.06,316.1 C343.75,314.67 345.99,311.92 347.93,308.39 C349.87,304.86 351.77,300.18 353.69,294.94 C355.61,289.69 357.51,282.92 359.45,276.91 C361.38,270.9 363.48,264.81 365.32,258.88 C367.16,252.95 369.64,244.23 370.5,241.3" fill="none" stroke="#5a80c8" stroke-width="2.9" stroke-linecap="round" stroke-linejoin="round"/>
<path d="M337.8,317 C338.51,316.85 340.37,317.54 342.06,316.1 C343.75,314.67 345.99,311.92 347.93,308.39 C349.87,304.86 351.77,300.18 353.69,294.94 C355.61,289.69 357.51,282.92 359.45,276.91 C361.38,270.9 363.48,264.81 365.32,258.88 C367.16,252.95 369.64,244.23 370.5,241.3" fill="none" stroke="#6e95dc" stroke-width="2.4" stroke-linecap="round" stroke-linejoin="round"/>
<path d="M337.4,316.8 C338.11,316.65 339.97,317.34 341.66,315.9 C343.35,314.47 345.59,311.72 347.53,308.19 C349.47,304.66 351.37,299.98 353.29,294.74 C355.21,289.49 357.11,282.72 359.05,276.71 C360.98,270.7 363.08,264.61 364.92,258.68 C366.76,252.75 369.24,244.03 370.1,241.1" fill="none" stroke="#c9dafa" stroke-width="0.8" stroke-linecap="butt" stroke-opacity="0.6" stroke-dasharray="0.7,0.8"/>
<path d="M351,311.4 C351.72,311.26 353.62,311.92 355.34,310.54 C357.06,309.16 359.34,306.51 361.32,303.12 C363.29,299.73 365.23,295.23 367.18,290.18 C369.14,285.14 371.07,278.62 373.04,272.84 C375.02,267.06 377.15,261.21 379.02,255.51 C380.9,249.8 383.42,241.42 384.3,238.6" fill="none" stroke="#5a80c8" stroke-width="2.9" stroke-linecap="round" stroke-linejoin="round"/>
<path d="M351,311.4 C351.72,311.26 353.62,311.92 355.34,310.54 C357.06,309.16 359.34,306.51 361.32,303.12 C363.29,299.73 365.23,295.23 367.18,290.18 C369.14,285.14 371.07,278.62 373.04,272.84 C375.02,267.06 377.15,261.21 379.02,255.51 C380.9,249.8 383.42,241.42 384.3,238.6" fill="none" stroke="#6e95dc" stroke-width="2.4" stroke-linecap="round" stroke-linejoin="round"/>
<path d="M350.6,311.2 C351.32,311.06 353.22,311.72 354.94,310.34 C356.66,308.96 358.94,306.31 360.92,302.92 C362.89,299.53 364.83,295.03 366.78,289.98 C368.74,284.94 370.67,278.42 372.64,272.64 C374.62,266.86 376.75,261.01 378.62,255.31 C380.5,249.6 383.02,241.22 383.9,238.4" fill="none" stroke="#c9dafa" stroke-width="0.8" stroke-linecap="butt" stroke-opacity="0.6" stroke-dasharray="0.7,0.8"/>
<text x="471" y="212.2" font-size="15" fill="#000" stroke="#000" stroke-width="0.15" font-weight="bold" >f</text>
<path d="M495.7,220.1 L575.6,210.6 L575.7,301 L502.1,332.4Z" fill="#fdf3f4" stroke="none" stroke-width="1" />
<path d="M575.6,210.6 L663.4,218.9 L657.4,326.5 L575.7,301Z" fill="#fdf3f4" stroke="none" stroke-width="1" />
<path d="M502.1,332.4 L575.7,301 L657.4,326.5 L588.9,369.1Z" fill="#edf2fd" stroke="none" stroke-width="1" />
<line x1="575.6" y1="210.6" x2="575.7" y2="301" stroke="#888" stroke-width="0.8" />
<path d="M495.7,220.1 L575.6,210.6 L663.4,218.9" fill="none" stroke="#555" stroke-width="0.8" />
<line x1="663.4" y1="218.9" x2="657.4" y2="326.5" stroke="#555" stroke-width="0.8" />
<line x1="502.1" y1="332.4" x2="575.7" y2="301" stroke="#444" stroke-width="0.9" />
<line x1="575.7" y1="301" x2="657.4" y2="326.5" stroke="#444" stroke-width="0.9" />
<line x1="495.7" y1="220.1" x2="502.1" y2="332.4" stroke="#333" stroke-width="1" />
<line x1="502.1" y1="332.4" x2="588.9" y2="369.1" stroke="#333" stroke-width="1" />
<line x1="588.9" y1="369.1" x2="657.4" y2="326.5" stroke="#333" stroke-width="1" />
<line x1="502.28" y1="335.5" x2="500.08" y2="335.5" stroke="#333" stroke-width="0.8" />
<line x1="500.76" y1="308.9" x2="498.56" y2="308.9" stroke="#333" stroke-width="0.8" />
<text x="498.16" y="312.7" font-size="10" fill="#222" stroke="#222" stroke-width="0.15" text-anchor="end" textLength="12.6" lengthAdjust="spacingAndGlyphs" transform="rotate(-4 500.76 308.9)">2.5</text>
<line x1="499.22" y1="281.8" x2="497.02" y2="281.8" stroke="#333" stroke-width="0.8" />
<text x="496.62" y="285.6" font-size="10" fill="#222" stroke="#222" stroke-width="0.15" text-anchor="end" textLength="12.6" lengthAdjust="spacingAndGlyphs" transform="rotate(-4 499.22 281.8)">5.0</text>
<line x1="497.43" y1="250.5" x2="495.23" y2="250.5" stroke="#333" stroke-width="0.8" />
<text x="494.83" y="254.3" font-size="10" fill="#222" stroke="#222" stroke-width="0.15" text-anchor="end" textLength="12.6" lengthAdjust="spacingAndGlyphs" transform="rotate(-4 497.43 250.5)">7.5</text>
<line x1="495.77" y1="221.4" x2="493.57" y2="221.4" stroke="#333" stroke-width="0.8" />
<text x="493.17" y="225.2" font-size="10" fill="#222" stroke="#222" stroke-width="0.15" text-anchor="end" textLength="16.8" lengthAdjust="spacingAndGlyphs" transform="rotate(-4 495.77 221.4)">10.0</text>
<line x1="501.52" y1="322.2" x2="500.22" y2="322.2" stroke="#333" stroke-width="0.7" />
<line x1="499.99" y1="295.35" x2="498.69" y2="295.35" stroke="#333" stroke-width="0.7" />
<line x1="498.32" y1="266.15" x2="497.02" y2="266.15" stroke="#333" stroke-width="0.7" />
<line x1="496.6" y1="235.95" x2="495.3" y2="235.95" stroke="#333" stroke-width="0.7" />
<text x="478" y="283.3" font-size="11" fill="#111" stroke="#111" stroke-width="0.15" text-anchor="middle" textLength="69" lengthAdjust="spacingAndGlyphs" transform="rotate(-90 478 283.3)" >Current (μA)</text>
<path d="M517,322 L575.5,297 L644.5,319.4 L588.4,350.1Z" fill="#7aa0ee" stroke="none" stroke-width="1" fill-opacity="0.8"/>
<path d="M516.4,303 L575.5,283.6 L645.1,300.8 L588.4,327.8Z" fill="#9d93d5" stroke="none" stroke-width="1" fill-opacity="0.78"/>
<path d="M514.9,276.5 L575.5,261.1 L647.3,274.3 L588.6,296.6Z" fill="#d3799a" stroke="none" stroke-width="1" fill-opacity="0.8"/>
<path d="M513.8,241.9 L577.3,231.4 L648.4,241.2 L589.3,255.5Z" fill="#e8686e" stroke="none" stroke-width="1" fill-opacity="0.8"/>
<text x="504.7" y="230.5" font-size="8.8" fill="#222" stroke="#222" stroke-width="0.15" textLength="18.6" lengthAdjust="spacingAndGlyphs" >200#</text>
<text x="508.9" y="267.5" font-size="8.8" fill="#222" stroke="#222" stroke-width="0.15" textLength="17.6" lengthAdjust="spacingAndGlyphs" >150#</text>
<text x="512.9" y="295.5" font-size="8.8" fill="#222" stroke="#222" stroke-width="0.15" textLength="17.2" lengthAdjust="spacingAndGlyphs" >100#</text>
<text x="516.4" y="319.4" font-size="8.8" fill="#222" stroke="#222" stroke-width="0.15" textLength="13.3" lengthAdjust="spacingAndGlyphs" >50#</text>
<text x="0" y="0" font-size="8" fill="#222" transform="matrix(0.8290,-0.5593,0.7507,0.6606,500.8,339.8)">0</text>
<text x="0" y="0" font-size="8" fill="#222" transform="matrix(0.8290,-0.5593,0.7507,0.6606,516.5,350)">10</text>
<text x="0" y="0" font-size="8" fill="#222" transform="matrix(0.8290,-0.5593,0.7507,0.6606,538.8,360.2)">20</text>
<text x="0" y="0" font-size="8" fill="#222" transform="matrix(0.8290,-0.5593,0.7507,0.6606,564.2,371.2)">30</text>
<text x="0" y="0" font-size="10.6" fill="#222" textLength="107" lengthAdjust="spacingAndGlyphs" transform="matrix(0.9134,0.4072,-0.6979,0.4852,477.5,340.6)">Device Index of WLs (#)</text>
<text x="0" y="0" font-size="8.2" fill="#222" transform="matrix(0.9798,0.2000,-0.4512,0.8924,598.5,370.5)">0</text>
<text x="0" y="0" font-size="8.2" fill="#222" transform="matrix(0.9798,0.2000,-0.4512,0.8924,619,358.5)">10</text>
<text x="0" y="0" font-size="8.2" fill="#222" transform="matrix(0.9798,0.2000,-0.4512,0.8924,637.5,347)">20</text>
<text x="0" y="0" font-size="8.2" fill="#222" transform="matrix(0.9798,0.2000,-0.4512,0.8924,653,336.5)">30</text>
<text x="0" y="0" font-size="10.6" fill="#222" textLength="88" lengthAdjust="spacingAndGlyphs" transform="matrix(0.8442,-0.5361,0.6000,0.8000,607,383.5)">Device Index of BLs (#)</text>
</svg></body></html>
